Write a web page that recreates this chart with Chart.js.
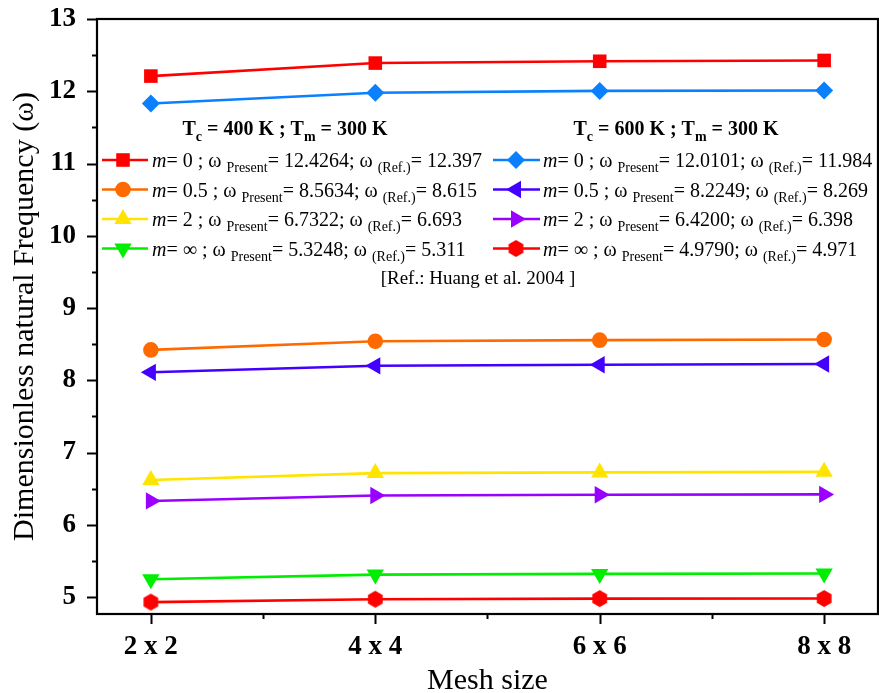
<!DOCTYPE html>
<html>
<head>
<meta charset="utf-8">
<script src="https://cdn.jsdelivr.net/npm/chart.js@4/dist/chart.umd.min.js"></script>
<style>
  html, body { margin: 0; padding: 0; background: #fff; }
  #wrap { width: 879px; height: 693px; position: relative; }
</style>
</head>
<body>
<div id="wrap"><canvas id="c" width="879" height="693"></canvas></div>
<script>
// Mesh sizes along the x axis
const meshSizes = ['2 x 2', '4 x 4', '6 x 6', '8 x 8'];
const yTicks = [5, 6, 7, 8, 9, 10, 11, 12, 13];

// Dimensionless natural frequency, Tc = 400 K ; Tm = 300 K
const tc400_m0   = [12.21, 12.39, 12.415, 12.4264];
const tc400_m05  = [8.42, 8.54, 8.555, 8.5634];
const tc400_m2   = [6.62, 6.715, 6.725, 6.7322];
const tc400_mInf = [5.245, 5.31, 5.32, 5.3248];

// Dimensionless natural frequency, Tc = 600 K ; Tm = 300 K
const tc600_m0   = [11.83, 11.98, 12.005, 12.0101];
const tc600_m05  = [8.11, 8.20, 8.215, 8.2249];
const tc600_m2   = [6.33, 6.405, 6.415, 6.4200];
const tc600_mInf = [4.93, 4.97, 4.978, 4.9790];

// Reference values (Huang et al. 2004)
const ref400 = ['12.397', '8.615', '6.693', '5.311'];
const ref600 = ['11.984', '8.269', '6.398', '4.971'];
const indexLabels = ['0', '0.5', '2', '\u221E'];

const SERIF = '"Liberation Serif", "Times New Roman", serif';

// hexagon marker as a small canvas image
function makeHexagon(r, color) {
  const s = Math.ceil(r * 2 + 2);
  const cv = document.createElement('canvas');
  cv.width = s; cv.height = s;
  const g = cv.getContext('2d');
  g.fillStyle = color;
  g.beginPath();
  for (let i = 0; i < 6; i++) {
    const a = Math.PI / 2 + i * Math.PI / 3;
    const px = s / 2 + r * Math.cos(a), py = s / 2 - r * Math.sin(a);
    if (i === 0) g.moveTo(px, py); else g.lineTo(px, py);
  }
  g.closePath();
  g.fill();
  return cv;
}
const hexRed = makeHexagon(8.5, '#ff0000');

function series(values, color, style, radius, rotation) {
  return {
    data: values.map((v, i) => ({ x: i + 1, y: v })),
    borderColor: color,
    backgroundColor: color,
    borderWidth: 2.6,
    pointStyle: style,
    pointRadius: radius,
    pointHoverRadius: radius,
    pointRotation: rotation || 0,
    pointBorderWidth: 0,
    tension: 0,
    clip: false
  };
}

const ds = [
  series(tc400_m0,   '#ff0000', 'rect', 9.6),
  series(tc400_m05,  '#ff6a00', 'circle', 7.8),
  series(tc400_m2,   '#ffe400', 'triangle', 10),
  series(tc400_mInf, '#00ee00', 'triangle', 10, 180),
  series(tc600_m0,   '#0a80ff', 'rectRot', 9),
  series(tc600_m05,  '#4400ff', 'triangle', 10, -90),
  series(tc600_m2,   '#9900ff', 'triangle', 10, 90),
  series(tc600_mInf, '#ff0000', hexRed, 8.5)
];

// draws one marker the way the datasets do
function marker(ctx, d, x, y) {
  if (d.pointStyle instanceof HTMLCanvasElement) {
    ctx.drawImage(d.pointStyle, x - d.pointStyle.width / 2, y - d.pointStyle.height / 2);
    return;
  }
  ctx.save();
  ctx.fillStyle = d.backgroundColor;
  ctx.strokeStyle = d.backgroundColor;
  Chart.helpers.drawPoint(ctx, {
    pointStyle: d.pointStyle, radius: d.pointRadius, rotation: d.pointRotation, borderWidth: 0
  }, x, y);
  ctx.restore();
}

function fontFor(k, size) {
  if (k === 'i') return `italic ${size}px ${SERIF}`;
  if (k === 's') return `${Math.round(size * 0.7)}px ${SERIF}`;
  if (k === 'b') return `bold ${size}px ${SERIF}`;
  if (k === 'bs') return `bold ${Math.round(size * 0.7)}px ${SERIF}`;
  return `${size}px ${SERIF}`;
}

// rich text: parts of [text, kind] with kind n = normal, i = italic, s = subscript, b = bold, bs = bold subscript
function richText(ctx, x, y, parts, size) {
  let cx = x;
  for (const [t, k] of parts) {
    const dy = k === 's' ? 5 : (k === 'bs' ? 6 : 0);
    ctx.font = fontFor(k, size);
    ctx.fillText(t, cx, y + dy);
    cx += ctx.measureText(t).width;
  }
  return cx - x;
}
function richWidth(ctx, parts, size) {
  let w = 0;
  for (const [t, k] of parts) {
    ctx.font = fontFor(k, size);
    w += ctx.measureText(t).width;
  }
  return w;
}

const framePlugin = {
  id: 'frame',
  afterDraw(chart) {
    const { ctx, chartArea: a, scales } = chart;
    const xs = scales.x, ys = scales.y;
    ctx.save();
    ctx.strokeStyle = '#000';
    ctx.lineWidth = 2.2;
    ctx.strokeRect(a.left, a.top, a.right - a.left, a.bottom - a.top);
    ctx.lineWidth = 2;
    ctx.beginPath();
    // y ticks: major at integers, minor halfway
    for (let v = 5; v <= 13; v += 0.5) {
      const py = Math.round(ys.getPixelForValue(v)) + 0.5;
      const len = Number.isInteger(v) ? 10 : 5;
      ctx.moveTo(a.left, py); ctx.lineTo(a.left - len, py);
    }
    // x ticks
    for (let v = 1; v <= 4; v += 0.5) {
      const px = Math.round(xs.getPixelForValue(v)) + 0.5;
      const len = Number.isInteger(v) ? 10 : 5;
      ctx.moveTo(px, a.bottom); ctx.lineTo(px, a.bottom + len);
    }
    ctx.stroke();

    // legend
    const cols = [
      { lineX0: 102, mk: 123, lineX1: 148, textX: 152, titleC: 285, t: '400', sets: ds.slice(0, 4), vals: [tc400_m0, tc400_m05, tc400_m2, tc400_mInf], refs: ref400 },
      { lineX0: 493, mk: 516, lineX1: 540, textX: 543, titleC: 676, t: '600', sets: ds.slice(4, 8), vals: [tc600_m0, tc600_m05, tc600_m2, tc600_mInf], refs: ref600 }
    ];
    const rowsY = [160, 189.5, 219, 248.5];
    ctx.fillStyle = '#000';
    ctx.textBaseline = 'alphabetic';
    ctx.textAlign = 'left';
    for (const c of cols) {
      const tParts = [['T', 'b'], ['c', 'bs'], [' = ' + c.t + ' K ; T', 'b'], ['m', 'bs'], [' = 300 K', 'b']];
      const tw = richWidth(ctx, tParts, 20);
      ctx.fillStyle = '#000';
      richText(ctx, c.titleC - tw / 2, 135, tParts, 20);
      c.sets.forEach((d, i) => {
        const y = rowsY[i];
        ctx.strokeStyle = d.borderColor;
        ctx.lineWidth = d.borderWidth;
        ctx.beginPath(); ctx.moveTo(c.lineX0, y); ctx.lineTo(c.lineX1, y); ctx.stroke();
        marker(ctx, d, c.mk, y);
        const present = c.vals[i][c.vals[i].length - 1].toFixed(4);
        ctx.fillStyle = '#000';
        richText(ctx, c.textX, y + 7, [
          ['m', 'i'], ['= ' + indexLabels[i] + ' ; \u03C9 ', 'n'], ['Present', 's'],
          ['= ' + present + '; \u03C9 ', 'n'], ['(Ref.)', 's'], ['= ' + c.refs[i], 'n']
        ], 20);
      });
    }
    ctx.font = `19px ${SERIF}`;
    ctx.textAlign = 'center';
    ctx.fillText('[Ref.: Huang et al. 2004 ]', 478, 284);
    ctx.restore();
  }
};

new Chart(document.getElementById('c'), {
  type: 'line',
  data: { datasets: ds },
  options: {
    responsive: false,
    animation: false,
    devicePixelRatio: 1,
    layout: { autoPadding: false, padding: { top: 19, right: 1, left: 0, bottom: 0 } },
    plugins: { legend: { display: false }, tooltip: { enabled: false } },
    scales: {
      x: {
        type: 'linear',
        min: 0.76, max: 4.24,
        grid: { display: false, drawTicks: false },
        border: { display: false },
        afterBuildTicks: s => { s.ticks = meshSizes.map((_, i) => ({ value: i + 1 })); },
        afterFit: s => { s.height = 79; s.paddingLeft = 0; s.paddingRight = 0; },
        ticks: {
          callback: v => meshSizes[Math.round(v) - 1],
          font: { family: SERIF, size: 27, weight: 'bold' },
          color: '#000',
          padding: 17,
          maxRotation: 0
        },
        title: {
          display: true, text: 'Mesh size',
          font: { family: SERIF, size: 30, lineHeight: 0.8 },
          color: '#000',
          padding: { top: 0, bottom: 0 }
        }
      },
      y: {
        type: 'linear',
        min: 4.765, max: 13,
        grid: { display: false, drawTicks: false },
        border: { display: false },
        afterBuildTicks: s => { s.ticks = yTicks.map(v => ({ value: v })); },
        afterFit: s => { s.width = 97; s.paddingTop = 0; s.paddingBottom = 0; },
        ticks: {
          callback: v => String(v),
          font: { family: SERIF, size: 27, weight: 'bold' },
          color: '#000',
          padding: 21
        },
        title: {
          display: true, text: 'Dimensionless natural Frequency (\u03C9)',
          font: { family: SERIF, size: 30, lineHeight: 1 },
          color: '#000',
          padding: { top: 10, bottom: 0 }
        }
      }
    }
  },
  plugins: [framePlugin]
});
</script>
</body>
</html>
